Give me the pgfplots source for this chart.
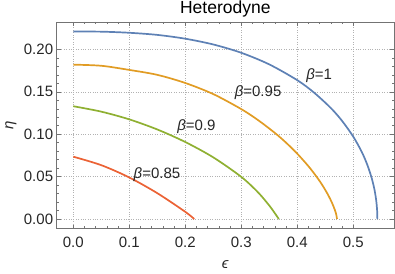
\documentclass[border=0pt]{standalone}
\usepackage{fontspec}
\setmainfont{Liberation Sans}
\usepackage{pgfplots}
\pgfplotsset{compat=1.18}
\definecolor{mblue}{rgb}{0.368417,0.506779,0.709798}
\definecolor{morange}{rgb}{0.880722,0.611041,0.142051}
\definecolor{mgreen}{rgb}{0.560181,0.691569,0.194885}
\definecolor{mred}{rgb}{0.922526,0.385626,0.209179}
\begin{document}
\begin{tikzpicture}
\begin{axis}[
  at={(56.7bp,45.3bp)}, anchor=south west,
  scale only axis, width=337.3bp, height=206.7bp,
  xmin=-0.0296, xmax=0.5727, ymin=-0.0114, ymax=0.2323,
  xtick={0,0.1,0.2,0.3,0.4,0.5}, ytick={0,0.05,0.1,0.15,0.2},
  minor x tick num=4, minor y tick num=4,
  tick align=inside, major tick length=4bp, minor tick length=2.5bp,
  axis line style={black!55, line width=0.6pt},
  every tick/.style={black!55, line width=0.5pt},
  grid=major, major grid style={black!30, dotted, line width=0.6pt},
  /pgf/number format/assume math mode=true,
  ticklabel style={font=\fontsize{15bp}{18bp}\selectfont, text=black!85},
  xticklabel style={anchor=north, inner sep=0pt, yshift=-8.3bp,
    /pgf/number format/.cd, fixed, fixed zerofill, precision=1},
  yticklabel style={anchor=east, inner sep=0pt, xshift=-3.4bp,
    /pgf/number format/.cd, fixed, fixed zerofill, precision=2},
  scaled ticks=false,
  xlabel={\textit{ϵ}}, ylabel={\textit{η}},
  xlabel style={at={(axis description cs:0.5,-0.1756)}, anchor=center, inner sep=0pt, font=\fontsize{15bp}{18bp}\selectfont, text=black!85},
  ylabel style={at={(axis description cs:-0.1355,0.5)}, anchor=center, inner sep=0pt, font=\fontsize{15bp}{18bp}\selectfont, text=black!85},
  title={Heterodyne},
  every axis title/.style={at={(axis description cs:0.5,1.0411)}, anchor=base, inner sep=0pt, font=\fontsize{17.5bp}{20bp}\selectfont},
]
\addplot[mblue, line width=1.7bp, smooth, tension=0.5, no markers] coordinates {(0,0.221) (0.05,0.2209) (0.1,0.2196) (0.15,0.2171) (0.2,0.2126) (0.25,0.2058) (0.3,0.196) (0.35,0.1823) (0.4,0.1637) (0.43,0.149) (0.46,0.1308) (0.48,0.1157) (0.5,0.0971) (0.515,0.0793) (0.525,0.064) (0.533,0.048) (0.538,0.0341) (0.541,0.0216) (0.5425,0.0108) (0.543,0)};
\addplot[morange, line width=1.7bp, smooth, tension=0.5, no markers] coordinates {(0,0.182) (0.05,0.1807) (0.1,0.1758) (0.15,0.1700) (0.2,0.1604) (0.25,0.1473) (0.3,0.1296) (0.33,0.1166) (0.36,0.1015) (0.38,0.0900) (0.4,0.0770) (0.42,0.0622) (0.435,0.0494) (0.445,0.0397) (0.455,0.0285) (0.462,0.0191) (0.467,0.0109) (0.4695,0.0055) (0.471,0)};
\addplot[mgreen, line width=1.7bp, smooth, tension=0.5, no markers] coordinates {(0,0.133) (0.05,0.1266) (0.1,0.1175) (0.15,0.1056) (0.2,0.0908) (0.25,0.0727) (0.3,0.0497) (0.33,0.0314) (0.35,0.0159) (0.36,0.0068) (0.367,0)};
\addplot[mred, line width=1.7bp, smooth, tension=0.5, no markers] coordinates {(0,0.0735) (0.05,0.0635) (0.1,0.049) (0.15,0.0305) (0.2,0.0085) (0.216,0)};
\node[font=\fontsize{15bp}{18bp}\selectfont, text=black!85] at (axis cs:0.439,0.169) {\textit{β}=1};
\node[font=\fontsize{15bp}{18bp}\selectfont, text=black!85] at (axis cs:0.330,0.149) {\textit{β}=0.95};
\node[font=\fontsize{15bp}{18bp}\selectfont, text=black!85] at (axis cs:0.220,0.1085) {\textit{β}=0.9};
\node[font=\fontsize{15bp}{18bp}\selectfont, text=black!85] at (axis cs:0.1495,0.0525) {\textit{β}=0.85};
\end{axis}
\pgfresetboundingbox
\path (0,0) rectangle (395bp,274bp);
\end{tikzpicture}
\end{document}
